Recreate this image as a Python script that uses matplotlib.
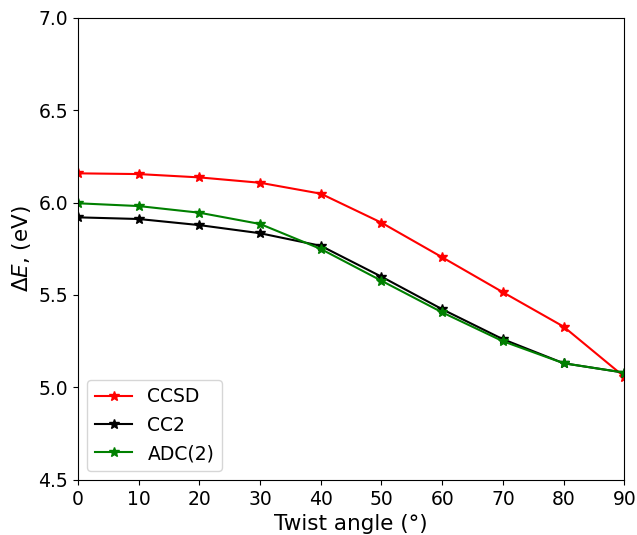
import matplotlib
matplotlib.use("Agg")
import matplotlib.pyplot as plt

# Twist angle scan
angles = [0, 10, 20, 30, 40, 50, 60, 70, 80, 90]
ccsd = [6.158, 6.154, 6.136, 6.107, 6.048, 5.891, 5.704, 5.515, 5.329, 5.058]
cc2 = [5.920, 5.911, 5.878, 5.834, 5.766, 5.599, 5.423, 5.261, 5.131, 5.080]
adc2 = [5.996, 5.981, 5.945, 5.884, 5.749, 5.577, 5.406, 5.250, 5.131, 5.080]

fig = plt.figure(figsize=(6.37, 5.35), dpi=100)
ax = fig.add_axes([0.1225, 0.103, 0.8575, 0.864])

ax.plot(angles, ccsd, color='red', marker='*', markersize=7, linewidth=1.5, label='CCSD')
ax.plot(angles, cc2, color='black', marker='*', markersize=7, linewidth=1.5, label='CC2')
ax.plot(angles, adc2, color='green', marker='*', markersize=7, linewidth=1.5, label='ADC(2)')

ax.set_xlim(0, 90)
ax.set_ylim(4.5, 7.0)
ax.set_xticks(range(0, 91, 10))
ax.set_yticks([4.5, 5.0, 5.5, 6.0, 6.5, 7.0])
ax.tick_params(labelsize=13.5)
ax.set_xlabel('Twist angle (°)', fontsize=15.5)
ax.set_ylabel(r'$\Delta E$, (eV)', fontsize=15.5)
ax.legend(loc='lower left', fontsize=13.5)

fig.savefig('out.png', dpi=100)
